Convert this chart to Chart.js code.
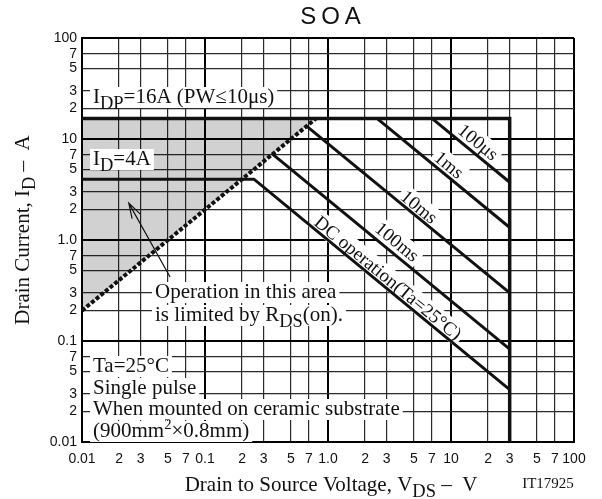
<!DOCTYPE html>
<html>
<head>
<meta charset="utf-8">
<script src="https://cdn.jsdelivr.net/npm/chart.js@4.4.1/dist/chart.umd.min.js"></script>
<style>
html, body { margin: 0; padding: 0; background: #fff; }
canvas { display: block; }
</style>
</head>
<body>
<canvas id="soa" width="602" height="499"></canvas>
<script>
// tick positions + labels (log axes, 1-2-3-5-7 grid)
const xTicks = [0.01,0.02,0.03,0.05,0.07,0.1,0.2,0.3,0.5,0.7,1,2,3,5,7,10,20,30,50,70,100];
const xTickLabels = ['0.01','2','3','5','7','0.1','2','3','5','7','1.0','2','3','5','7','10','2','3','5','7','100'];
const yTicks = [0.01,0.02,0.03,0.05,0.07,0.1,0.2,0.3,0.5,0.7,1,2,3,5,7,10,20,30,50,70,100];
const yTickLabels = ['0.01','2','3','5','7','0.1','2','3','5','7','1.0','2','3','5','7','10','2','3','5','7','100'];

// SOA limit lines, V_DS (V) / I_D (A)
const idpV = [0.01, 30, 30];
const idpI = [16, 16, 0.01];
const rdsV = [0.01, 0.8];
const rdsI = [0.2, 16];
const dcV = [0.01, 0.25, 30];
const dcI = [4, 4, 0.033];
const ms100V = [0.354, 30];
const ms100I = [7.07, 0.083];
const ms10V = [0.67, 30];
const ms10I = [13.4, 0.3];
const ms1V = [2.5, 30];
const ms1I = [16, 1.33];
const us100V = [7, 30];
const us100I = [16, 3.73];
// area limited by RDS(on)
const shadeV = [0.01, 0.8, 0.01];
const shadeI = [0.2, 16, 16];

function pts(xs, ys) { return xs.map((v, i) => ({ x: v, y: ys[i] })); }

const serif = '"Liberation Serif", "DejaVu Serif", serif';
const sans = '"Liberation Sans", Arial, sans-serif';

function isMajor(v) { const l = Math.log10(v); return Math.abs(l - Math.round(l)) < 1e-6; }

function partSize(p, s) { return p[1] === 'sub' ? s * 0.88 : p[1] === 'sup' ? s * 0.7 : s; }
function partDy(p, s) { return p[1] === 'sub' ? s * 0.3 : p[1] === 'sup' ? -s * 0.36 : 0; }
function partsWidth(ctx, parts, s) {
  let w = 0;
  parts.forEach(p => { ctx.font = partSize(p, s) + 'px ' + serif; w += ctx.measureText(p[0]).width; });
  return w;
}
function drawParts(ctx, parts, x, y, s) {
  ctx.textAlign = 'left';
  ctx.textBaseline = 'alphabetic';
  parts.forEach(p => {
    ctx.font = partSize(p, s) + 'px ' + serif;
    ctx.fillText(p[0], x, y + partDy(p, s));
    x += ctx.measureText(p[0]).width;
  });
}

// boxed notes (x offset from plot left, baseline y)
const notes = [
  { parts: [['I'], ['DP', 'sub'], ['=16A (PW≤10μs)']], dx: 11, y: 103 },
  { parts: [['I'], ['D', 'sub'], ['=4A']], dx: 11, y: 165 },
  { parts: [['Operation in this area']], dx: 73, y: 298 },
  { parts: [['is limited by R'], ['DS', 'sub'], ['(on).']], dx: 73, y: 321 },
  { parts: [['Ta=25°C']], dx: 11, y: 372 },
  { parts: [['Single pulse']], dx: 11, y: 394 },
  { parts: [['When mounted on ceramic substrate']], dx: 11, y: 415 },
  { parts: [['(900mm'], ['2', 'sup'], ['×0.8mm)']], dx: 11, y: 437 }
];
// labels along the slanted lines (centre in data coords)
const slantLabels = [
  { t: '100μs', v: 16.6, i: 9.3 },
  { t: '1ms', v: 9.64, i: 5.53 },
  { t: '10ms', v: 5.5, i: 2.12 },
  { t: '100ms', v: 3.64, i: 0.955 },
  { t: 'DC operation(Ta=25°C)', v: 3.07, i: 0.42 }
];
const NOTE_SIZE = 21, SLANT_SIZE = 19;

function slantAngle(chart) {
  const x = chart.scales.x, y = chart.scales.y;
  return Math.atan((y.getPixelForValue(0.1) - y.getPixelForValue(1)) / (x.getPixelForValue(1) - x.getPixelForValue(0.1)));
}

const soaText = {
  id: 'soaText',
  afterDatasetDraw(chart, args) {
    if (args.index !== 0) return; // right after the grey area: white boxes
    const ctx = chart.ctx, a = chart.chartArea;
    ctx.save();
    ctx.fillStyle = '#fff';
    notes.forEach(n => {
      const w = partsWidth(ctx, n.parts, NOTE_SIZE);
      ctx.fillRect(a.left + n.dx - 3, n.y - 16, w + 6, 21);
    });
    const ang = slantAngle(chart);
    slantLabels.forEach(l => {
      ctx.save();
      ctx.translate(chart.scales.x.getPixelForValue(l.v), chart.scales.y.getPixelForValue(l.i));
      ctx.rotate(ang);
      ctx.font = SLANT_SIZE + 'px ' + serif;
      const w = ctx.measureText(l.t).width;
      ctx.fillRect(-w / 2 - 3, -SLANT_SIZE / 2 - 1, w + 6, SLANT_SIZE + 2);
      ctx.restore();
    });
    ctx.restore();
  },
  afterDraw(chart) {
    const ctx = chart.ctx, a = chart.chartArea;
    const xs = chart.scales.x, ys = chart.scales.y;
    ctx.save();
    ctx.fillStyle = '#111';
    notes.forEach(n => drawParts(ctx, n.parts, a.left + n.dx, n.y, NOTE_SIZE));

    const ang = slantAngle(chart);
    slantLabels.forEach(l => {
      ctx.save();
      ctx.translate(xs.getPixelForValue(l.v), ys.getPixelForValue(l.i));
      ctx.rotate(ang);
      ctx.font = SLANT_SIZE + 'px ' + serif;
      ctx.textAlign = 'center';
      ctx.textBaseline = 'middle';
      ctx.fillText(l.t, 0, 1);
      ctx.restore();
    });

    // arrow pointing into the limited area
    const tx = xs.getPixelForValue(0.024), ty = ys.getPixelForValue(2.32);
    const sx = xs.getPixelForValue(0.052), sy = ys.getPixelForValue(0.43);
    const th = Math.atan2(ty - sy, tx - sx);
    ctx.strokeStyle = '#111';
    ctx.lineWidth = 1.2;
    ctx.beginPath();
    ctx.moveTo(sx, sy); ctx.lineTo(tx, ty);
    ctx.moveTo(tx - 16 * Math.cos(th - 0.3), ty - 16 * Math.sin(th - 0.3));
    ctx.lineTo(tx, ty);
    ctx.lineTo(tx - 16 * Math.cos(th + 0.3), ty - 16 * Math.sin(th + 0.3));
    ctx.stroke();

    // title
    ctx.font = '24px ' + sans;
    ctx.letterSpacing = '5px';
    ctx.textAlign = 'center';
    ctx.textBaseline = 'middle';
    ctx.fillText('SOA', 333, 17);
    ctx.letterSpacing = '0px';

    // x axis title
    const xt = [['Drain to Source Voltage, V'], ['DS', 'sub'], [' –  V']];
    const xw = partsWidth(ctx, xt, 21);
    drawParts(ctx, xt, 331 - xw / 2, 491, 21);
    ctx.font = '15px ' + serif;
    ctx.textAlign = 'center';
    ctx.fillText('IT17925', 548, 488);

    // y axis title
    const yt = [['Drain Current, I'], ['D', 'sub'], [' –  A']];
    const yw = partsWidth(ctx, yt, 21);
    ctx.translate(29, 230);
    ctx.rotate(-Math.PI / 2);
    drawParts(ctx, yt, -yw / 2, 0, 21);
    ctx.restore();
  }
};

const gridOpts = {
  drawTicks: false,
  color: c => (c.tick && isMajor(c.tick.value)) ? '#000' : '#2a2a2a',
  lineWidth: c => (c.tick && isMajor(c.tick.value)) ? 2 : 1.2
};

new Chart(document.getElementById('soa'), {
  type: 'scatter',
  data: {
    datasets: [
      { data: pts(shadeV, shadeI), showLine: true, fill: 'shape', backgroundColor: 'rgba(0,0,0,0.18)', borderWidth: 0, pointRadius: 0, order: 10 },
      { data: pts(idpV, idpI), showLine: true, borderColor: '#111', borderWidth: 3.5, pointRadius: 0 },
      { data: pts(dcV, dcI), showLine: true, borderColor: '#111', borderWidth: 3, pointRadius: 0 },
      { data: pts(ms100V, ms100I), showLine: true, borderColor: '#111', borderWidth: 3, pointRadius: 0 },
      { data: pts(ms10V, ms10I), showLine: true, borderColor: '#111', borderWidth: 3, pointRadius: 0 },
      { data: pts(ms1V, ms1I), showLine: true, borderColor: '#111', borderWidth: 3, pointRadius: 0 },
      { data: pts(us100V, us100I), showLine: true, borderColor: '#111', borderWidth: 3, pointRadius: 0 },
      { data: pts(rdsV, rdsI), showLine: true, borderColor: '#111', borderWidth: 4, borderDash: [4, 2], pointRadius: 0 }
    ]
  },
  options: {
    responsive: false,
    animation: false,
    layout: { padding: { top: 38, right: 28, left: 0, bottom: 0 } },
    plugins: { legend: { display: false }, tooltip: { enabled: false } },
    scales: {
      x: {
        type: 'logarithmic', min: 0.01, max: 100,
        afterBuildTicks: s => { s.ticks = xTicks.map(v => ({ value: v })); },
        afterFit: s => { s.height = 57; },
        ticks: { autoSkip: false, maxRotation: 0, padding: 9, color: '#111',
          font: { family: sans, size: 14 }, callback: (v, i) => xTickLabels[i] },
        grid: gridOpts,
        border: { color: '#000', width: 2 }
      },
      y: {
        type: 'logarithmic', min: 0.01, max: 100,
        afterBuildTicks: s => { s.ticks = yTicks.map(v => ({ value: v })); },
        afterFit: s => { s.width = 82; },
        ticks: { autoSkip: false, padding: 5, color: '#111',
          font: { family: sans, size: 14 }, callback: (v, i) => yTickLabels[i] },
        grid: gridOpts,
        border: { color: '#000', width: 2 }
      }
    }
  },
  plugins: [soaText]
});
</script>
</body>
</html>
